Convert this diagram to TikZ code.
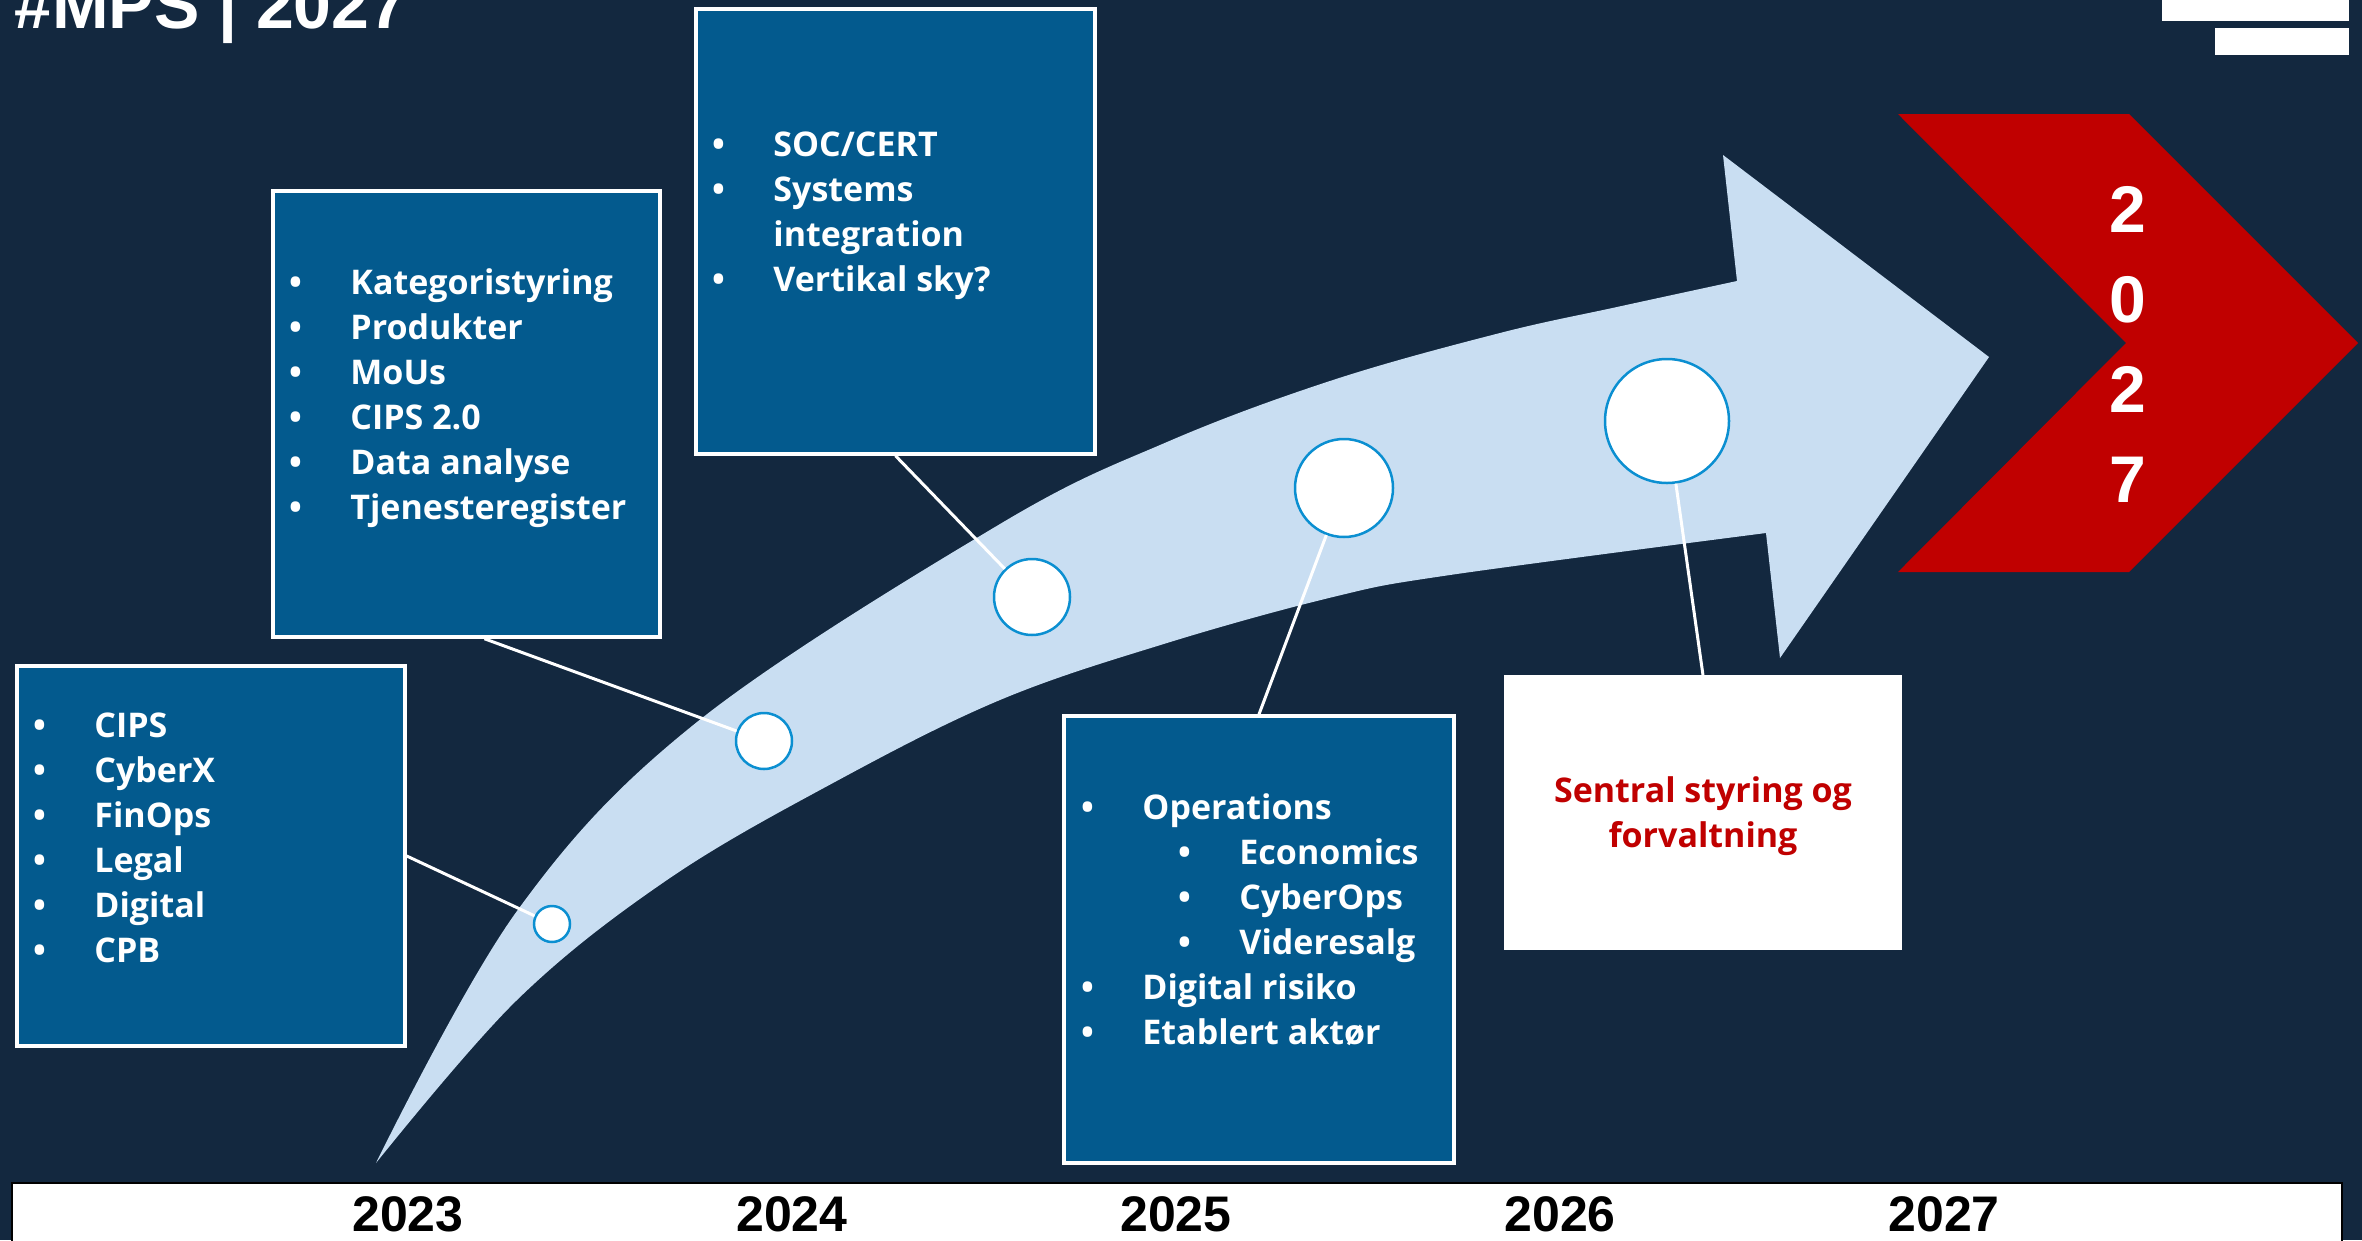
\documentclass[tikz,border=0pt]{standalone}
\usepackage{fontspec}
\setmainfont{Open Sans}
\newfontfamily\arialfont{Liberation Sans}
\usetikzlibrary{positioning}

\definecolor{mpsnavy}{HTML}{13283F}
\definecolor{boxblue}{HTML}{035A8E}
\definecolor{arrowblue}{HTML}{C9DEF2}
\definecolor{ringblue}{HTML}{0B8FD1}
\definecolor{mpsred}{HTML}{C00000}

\newcommand\mpsitem[1]{\rule{0pt}{32pt}\makebox[0pt]{\textbullet}\hspace{55pt}#1}
\newcommand\mpscont[1]{\rule{0pt}{32pt}\hspace{55pt}#1}
\newcommand\mpssub[1]{\rule{0pt}{32pt}\hspace{97pt}\makebox[0pt]{\textbullet}\hspace{55pt}#1}

\tikzset{
  infobox/.style={draw=white, line width=3.5pt, fill=boxblue, inner sep=0pt},
  listtext/.style={anchor=north west, inner sep=0pt, align=left, text=white,
    font=\bfseries\fontsize{34}{45}\selectfont},
  milestone/.style={circle, draw=ringblue, line width=2.5pt, fill=white, inner sep=0pt},
  link/.style={white, line width=3pt},
  yearlabel/.style={anchor=base, inner sep=0pt, font=\arialfont\bfseries\fontsize{50}{50}\selectfont},
  chevdigit/.style={anchor=base, inner sep=0pt, text=white, font=\arialfont\bfseries\fontsize{66}{66}\selectfont},
}

\begin{document}
\begin{tikzpicture}[x=1pt, y=-1pt]
  \useasboundingbox (0,0) rectangle (2362,1240);
  \fill[mpsnavy] (0,0) rectangle (2362,1240);

  % title and corner marks
  \node[anchor=base west, inner sep=0pt, text=white, font=\arialfont\bfseries\fontsize{68}{68}\selectfont] (title) at (14,28) {\#MPS | 2027};
  \fill[white] (2162,-5) rectangle (2349,21);
  \fill[white] (2215,28) rectangle (2349,55);

  % big arrow
  \fill[arrowblue] plot[smooth, tension=0.6] coordinates {(376,1163) (517,911) (697,722) (1000,524) (1167,442) (1333,380) (1500,333) (1617,307) (1737,281)}
    -- (1723,155) -- (1989,357) -- (1780,658) -- (1766,533)
    -- plot[smooth, tension=0.6] coordinates {(1766,533) (1450,575) (1333,597) (1167,643) (1000,700) (833,783) (667,880) (517,1000) (376,1163)} -- cycle;

  % 2027 chevron
  \fill[mpsred] (1898,114) -- (2129,114) -- (2358,343) -- (2129,572) -- (1898,572) -- (2126,343) -- cycle;
  \foreach \dg [count=\i] in {2,0,2,7}
    \node[chevdigit] (digit\i) at (2128, {142+90*\i}) {\dg};

  % boxes
  \node[infobox, minimum width=388, minimum height=380] (yA) at (211,856) {};
  \node[listtext] at ([shift={(24,41)}]yA.north west) {\mpsitem{CIPS}\\ \mpsitem{CyberX}\\ \mpsitem{FinOps}\\ \mpsitem{Legal}\\ \mpsitem{Digital}\\ \mpsitem{CPB}};

  \node[infobox, minimum width=387, minimum height=446] (yB) at (466.5,414) {};
  \node[listtext] at ([shift={(24,73)}]yB.north west) {\mpsitem{Kategoristyring}\\ \mpsitem{Produkter}\\ \mpsitem{MoUs}\\ \mpsitem{CIPS 2.0}\\ \mpsitem{Data analyse}\\ \mpsitem{Tjenesteregister}};

  \node[infobox, minimum width=399, minimum height=445] (yC) at (895.5,231.5) {};
  \node[listtext] at ([shift={(24,117)}]yC.north west) {\mpsitem{SOC/CERT}\\ \mpsitem{Systems}\\ \mpscont{integration}\\ \mpsitem{Vertikal sky?}};

  \node[infobox, minimum width=390, minimum height=447] (yD) at (1259,939.5) {};
  \node[listtext] at ([shift={(25,73)}]yD.north west) {\mpsitem{Operations}\\ \mpssub{Economics}\\ \mpssub{CyberOps}\\ \mpssub{Videresalg}\\ \mpsitem{Digital risiko}\\ \mpsitem{Etablert aktør}};

  \node[infobox, fill=white, minimum width=394, minimum height=271, text=mpsred, align=center,
    font=\bfseries\fontsize{34}{45}\selectfont] (yE) at (1703,812.5) {\rule{0pt}{33pt}Sentral styring og\\forvaltning};

  % milestones on the arrow
  \node[milestone, minimum size=36] (m1) at (552,924) {};
  \node[milestone, minimum size=56] (m2) at (764,741) {};
  \node[milestone, minimum size=76] (m3) at (1032,597) {};
  \node[milestone, minimum size=98] (m4) at (1344,488) {};
  \node[milestone, minimum size=124] (m5) at (1667,421) {};

  \draw[link] (yA.east) -- (m1);
  \draw[link] ([xshift=18pt]yB.south) -- (m2);
  \draw[link] (yC.south) -- (m3);
  \draw[link] (yD.north) -- (m4);
  \draw[link] (yE.north) -- (m5);

  % year bar
  \draw[fill=white, line width=1.5pt] (12,1183) rectangle (2342,1260);
  \foreach \yr [count=\i from 0] in {2023,2024,2025,2026,2027}
    \node[yearlabel] (yr\yr) at ({408+384*\i}, 1231) {\yr};
\end{tikzpicture}
\end{document}
